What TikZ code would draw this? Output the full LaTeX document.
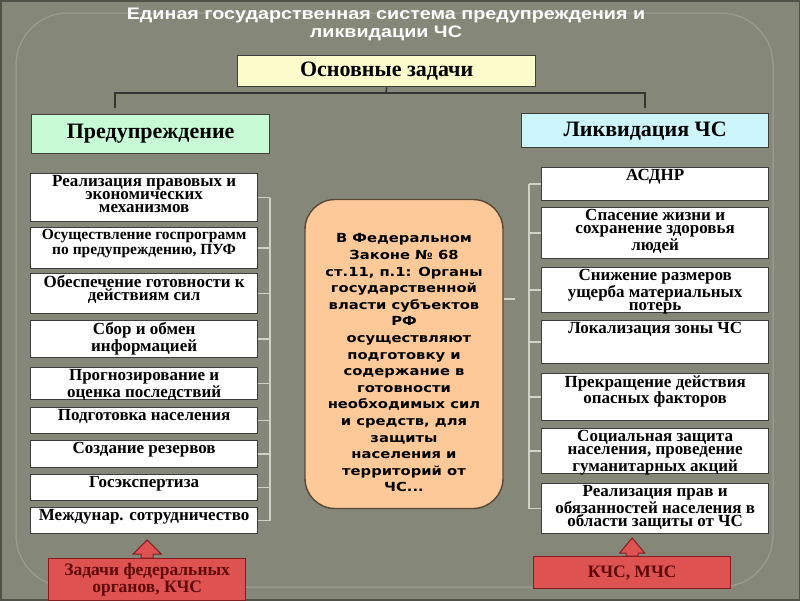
\documentclass[tikz,border=0pt]{standalone}
\usepackage{fontspec}
\setmainfont{Liberation Serif}
\newfontfamily\titlefont[FakeStretch=1.18]{Liberation Sans}
\newfontfamily\lawfont[FakeStretch=1.18]{DejaVu Sans}
\usetikzlibrary{calc}

\definecolor{slide}{RGB}{133,135,121}
\definecolor{slideedge}{RGB}{80,82,72}
\definecolor{framecol}{RGB}{151,153,139}
\definecolor{boxline}{RGB}{62,62,58}
\definecolor{barcol}{RGB}{210,210,200}
\definecolor{linkcol}{RGB}{52,52,48}
\definecolor{yellowbox}{RGB}{253,252,204}
\definecolor{mintbox}{RGB}{198,251,214}
\definecolor{cyanbox}{RGB}{204,245,252}
\definecolor{peach}{RGB}{253,201,152}
\definecolor{peachline}{RGB}{90,72,55}
\definecolor{taskfill}{RGB}{222,82,82}
\definecolor{taskline}{RGB}{130,30,30}
\definecolor{tasktext}{RGB}{95,8,8}

\begin{document}
\begin{tikzpicture}[
  x=1pt,y=-1pt,
  box/.style={draw=boxline,line width=1.3pt,fill=white,anchor=north west,
    inner sep=0pt,minimum width=227},
  txt/.style={font=\bfseries\fontsize{17}{13}\selectfont,align=center,inner sep=2.5pt},
  head/.style={draw=boxline,line width=1.3pt,anchor=north west,
    font=\bfseries\fontsize{22}{24}\selectfont},
  task/.style={draw=taskline,line width=1.3pt,fill=taskfill,anchor=north west,
    minimum width=197,text=tasktext,align=center,
    font=\bfseries\fontsize{17.5}{15}\selectfont},
  bar/.style={draw=barcol,line width=1.4pt},
  link/.style={draw=linkcol,line width=1.6pt},
  uparr/.style={draw=taskline,fill=taskfill,line width=1pt}
]
\useasboundingbox (0,0) rectangle (800,600);
\fill[slide] (0,0) rectangle (800,600);
\draw[framecol,line width=1.5pt,rounded corners=52] (16,13) rectangle (773,587);
\draw[slideedge,line width=3pt] (0,0) rectangle (800,600);

\node[text=white,align=center,inner sep=0pt,
  font=\titlefont\bfseries\fontsize{16.7}{18}\selectfont] (title) at (386,24)
  {Единая государственная система предупреждения и\\ликвидации ЧС};

\node[head,fill=yellowbox,minimum width=298,minimum height=31] (osn) at (237,55) {Основные задачи};
\node[head,fill=mintbox,minimum width=238,minimum height=39] (pred) at (31,114) {Предупреждение};
\node[head,fill=cyanbox,minimum width=247,minimum height=34] (likv) at (521,113) {Ликвидация ЧС};

\coordinate (jm) at (386,93);
\coordinate (jl) at (115,108);
\coordinate (jr) at (645,108);
\draw[link] (osn.south) -- (jm);
\draw[link] (jl) |- (jm) -| (jr);

% prevention tasks
\node[box,minimum height=48,label={[txt,anchor=north]north:{Реализация правовых и\\экономических\\механизмов}}] (p1) at (30,173) {};
\node[box,minimum height=41,label={[txt,anchor=north,font=\bfseries\fontsize{15.5}{13}\selectfont]north:{Осуществление госпрограмм\\по предупреждению, ПУФ}}] (p2) at (30,227) {};
\node[box,minimum height=40,label={[txt,anchor=north]north:{Обеспечение готовности к\\действиям сил}}] (p3) at (30,273) {};
\node[box,minimum height=37,label={[txt,anchor=north]north:{Сбор и обмен\\информацией}}] (p4) at (30,320) {};
\node[box,minimum height=32,label={[txt,anchor=north]north:{Прогнозирование и\\оценка последствий}}] (p5) at (30,367) {};
\node[box,minimum height=26,label={[txt,anchor=north]north:{Подготовка населения}}] (p6) at (30,407) {};
\node[box,minimum height=27,label={[txt,anchor=north]north:{Создание резервов}}] (p7) at (30,440) {};
\node[box,minimum height=26,label={[txt,anchor=north]north:{Госэкспертиза}}] (p8) at (30,474) {};
\node[box,minimum height=26,label={[txt,anchor=north]north:{Междунар. сотрудничество}}] (p9) at (30,507) {};

\coordinate (lbar) at (270,0);
\draw[bar] (p1.east -| lbar) -- (p9.east -| lbar);
\draw[bar] (p1.east) -- (p1.east -| lbar);
\draw[bar] (p2.east) -- (p2.east -| lbar);
\draw[bar] (p3.east) -- (p3.east -| lbar);
\draw[bar] (p4.east) -- (p4.east -| lbar);
\draw[bar] (p5.east) -- (p5.east -| lbar);
\draw[bar] (p6.east) -- (p6.east -| lbar);
\draw[bar] (p7.east) -- (p7.east -| lbar);
\draw[bar] (p8.east) -- (p8.east -| lbar);
\draw[bar] (p9.east) -- (p9.east -| lbar);

% response tasks
\node[box,minimum height=33,label={[txt,anchor=north]north:{АСДНР}}] (q1) at (541,167) {};
\node[box,minimum height=51,label={[txt,anchor=north]north:{Спасение жизни и\\сохранение здоровья\\людей}}] (q2) at (541,207) {};
\node[box,minimum height=45,label={[txt,anchor=north]north:{Снижение размеров\\ущерба материальных\\потерь}}] (q3) at (541,267) {};
\node[box,minimum height=43,label={[txt,anchor=north]north:{Локализация зоны ЧС}}] (q4) at (541,320) {};
\node[box,minimum height=47,label={[txt,anchor=north]north:{Прекращение действия\\опасных факторов}}] (q5) at (541,373) {};
\node[box,minimum height=45,label={[txt,anchor=north]north:{Социальная защита\\населения, проведение\\гуманитарных акций}}] (q6) at (541,428) {};
\node[box,minimum height=50,label={[txt,anchor=north]north:{Реализация прав и\\обязанностей населения в\\области защиты от ЧС}}] (q7) at (541,483) {};

\coordinate (rbar) at (529,0);
\draw[bar] (q1.west -| rbar) -- (q7.west -| rbar);
\draw[bar] (q1.west) -- (q1.west -| rbar);
\draw[bar] (q2.west) -- (q2.west -| rbar);
\draw[bar] (q3.west) -- (q3.west -| rbar);
\draw[bar] (q4.west) -- (q4.west -| rbar);
\draw[bar] (q5.west) -- (q5.west -| rbar);
\draw[bar] (q6.west) -- (q6.west -| rbar);
\draw[bar] (q7.west) -- (q7.west -| rbar);

\node[draw=peachline,line width=1.4pt,fill=peach,rounded corners=30,
  minimum width=198,minimum height=309,
  label={[align=center,inner sep=0pt,yshift=-9pt,
    font=\lawfont\bfseries\fontsize{12.5}{16.6}\selectfont]center:{В Федеральном\\Законе № 68\\ст.11, п.1: Органы\\государственной\\власти субъектов\\РФ\\\hspace*{10pt}осуществляют\\подготовку и\\содержание в\\готовности\\необходимых сил\\и средств, для\\защиты\\населения и\\территорий от\\ЧС...}}] (law) at (404,354) {};
\coordinate (lawtip) at (515,299);
\draw[bar] (law.east |- lawtip) -- (lawtip);

\node[task,minimum height=42] (fed) at (48,558) {Задачи федеральных\\органов, КЧС};
\node[task,minimum height=32] (kchs) at (533,556) {КЧС, МЧС};
\draw[uparr] ($(fed.north)+(-6,0)$) -- ++(0,-4) -- ++(-8,0) -- ++(14,-14)
  -- ++(14,14) -- ++(-8,0) -- ++(0,4) -- cycle;
\draw[uparr] ($(kchs.north)+(-6,0)$) -- ++(0,-3) -- ++(-6.5,0) -- ++(12.5,-15)
  -- ++(12.5,15) -- ++(-6.5,0) -- ++(0,3) -- cycle;
\end{tikzpicture}
\end{document}
